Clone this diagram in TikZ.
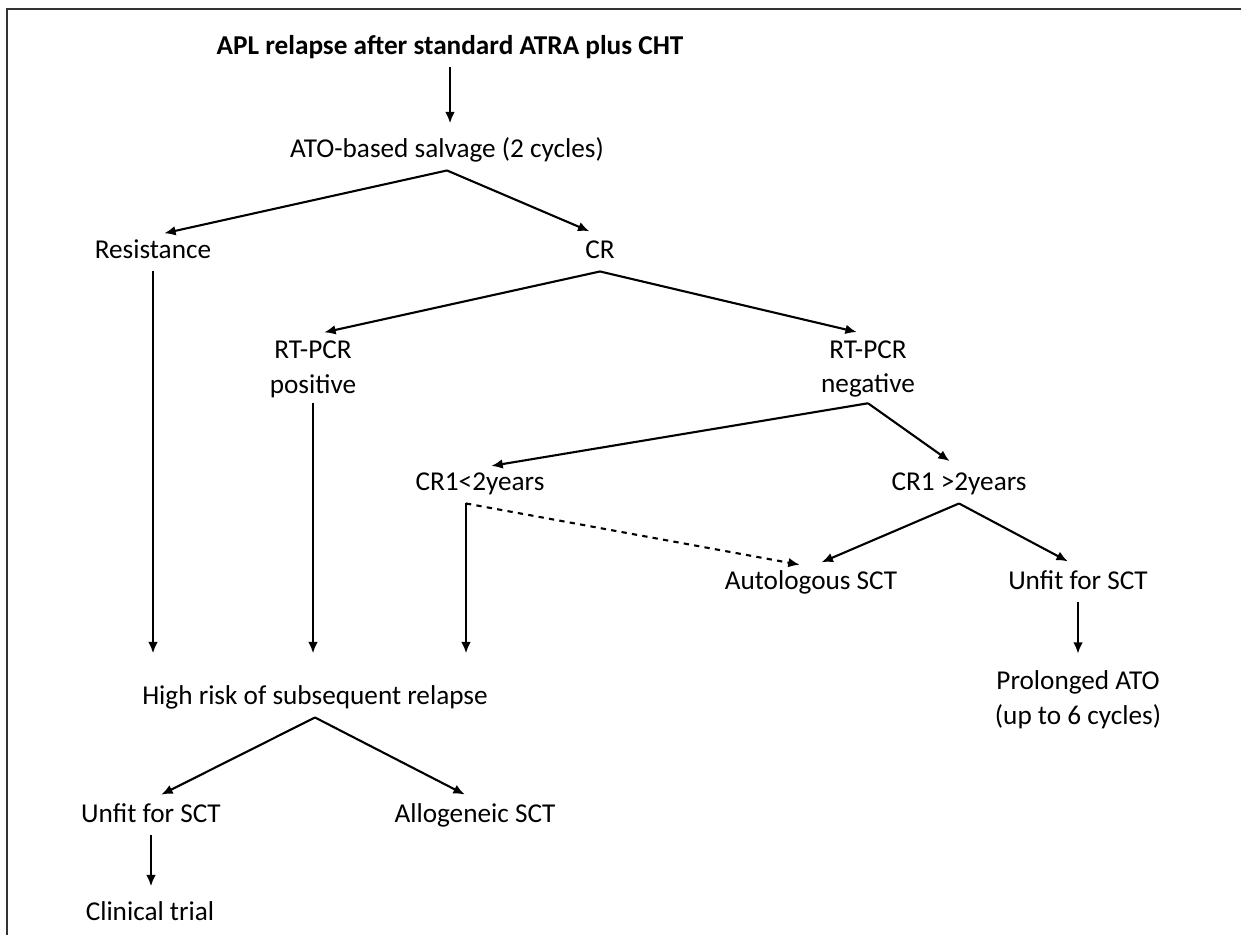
\documentclass[tikz,border=0pt]{standalone}
\usepackage{fontspec}
\setmainfont{Carlito}
\usetikzlibrary{arrows.meta}

\begin{document}
\begin{tikzpicture}[
        x = 0.02cm, y = -0.02cm,
        shorten >= 0.23cm,
        >= {Latex[length = 6.5pt, width = 5.5pt]},
        every node/.style = {font = \fontsize{15.5pt}{19.9pt}\selectfont, inner xsep = 0pt, inner ysep = 3pt},
        stage/.style = {anchor = base, text height = 10pt, text depth = 3.9pt},
        twoline/.style = {align = center},
        flow/.style = {->, line width = 1.2pt}
    ]

    \useasboundingbox (0,0) rectangle (1252,935);
    \draw[line width = 1.3pt, black!80] (7,935) -- (7,9) -- (1252,9);

    \node[stage, font = \fontsize{15.5pt}{19.9pt}\selectfont\bfseries] (apl) at (450,55) {APL relapse after standard ATRA plus CHT};
    \node[stage] (salvage) at (447,158) {ATO-based salvage (2 cycles)};
    \node[stage] (resist) at (153,259) {Resistance};
    \node[stage] (cr) at (600,259) {CR};
    \node[twoline] (pcrpos) at (313,369) {RT-PCR\\positive};
    \node[twoline] (pcrneg) at (868,369) {RT-PCR\\negative};
    \node[stage] (lessyears) at (480,491) {CR1<2years};
    \node[stage] (moreyears) at (959,491) {CR1 >2years};
    \node[stage] (autosct) at (811,590) {Autologous SCT};
    \node[stage] (unfitright) at (1078,590) {Unfit for SCT};
    \node[twoline] (prolonged) at (1078,700) {Prolonged ATO\\(up to 6 cycles)};
    \node[stage] (highrisk) at (315,705) {High risk of subsequent relapse};
    \node[stage] (unfitleft) at (151,823) {Unfit for SCT};
    \node[stage] (allosct) at (475,823) {Allogeneic SCT};
    \node[stage] (trial) at (150,921) {Clinical trial};

    \coordinate (fork) at ([xshift = -0.28cm]lessyears.south);

    \path[flow]
        (apl.south) edge (apl.south |- salvage.north)
        (salvage.south) edge (resist.north)
        (salvage.south) edge (cr.north)
        (cr.south) edge (pcrpos.north)
        (cr.south) edge (pcrneg.north)
        (pcrneg.south) edge (lessyears.north)
        (pcrneg.south) edge (moreyears.north)
        (moreyears.south) edge (autosct.north)
        (moreyears.south) edge (unfitright.north)
        (unfitright.south) edge (unfitright.south |- prolonged.north)
        (highrisk.south) edge (unfitleft.north)
        (highrisk.south) edge (allosct.north)
        (unfitleft.south) edge (unfitleft.south |- trial.north);

    \path[flow, shorten >= 0.57cm]
        (resist.south) edge (resist.south |- highrisk.north)
        (pcrpos.south) edge (pcrpos.south |- highrisk.north)
        (fork) edge (fork |- highrisk.north);

    \path[flow]
        (fork) edge [dashed] (autosct.north);
\end{tikzpicture}
\end{document}
